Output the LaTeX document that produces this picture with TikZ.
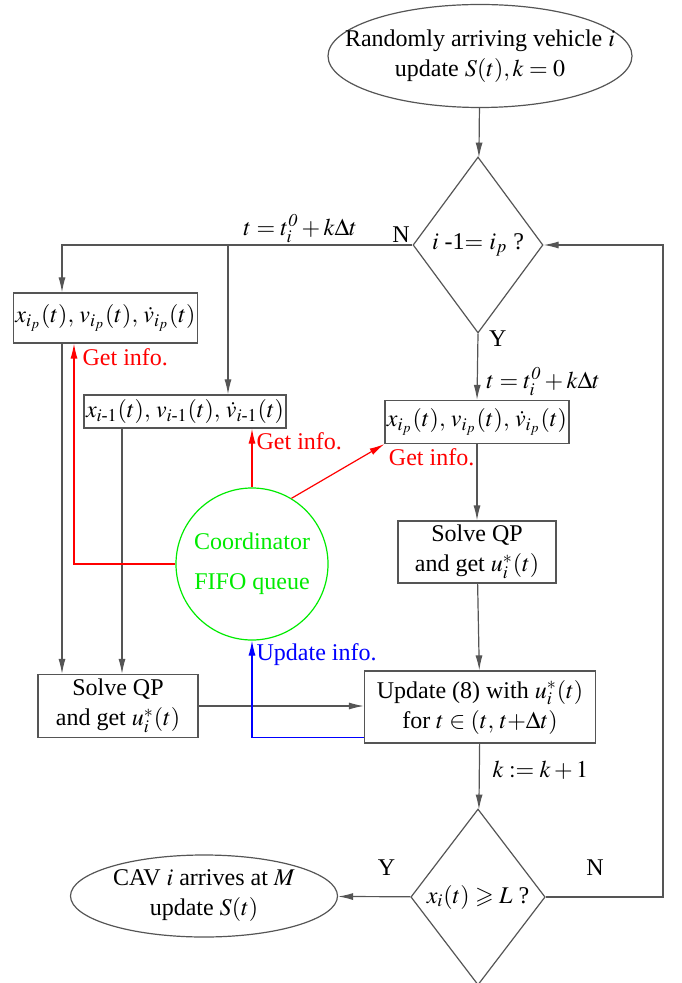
\documentclass[tikz,border=0pt]{standalone}
\usepackage{amsmath,amssymb}
\usepackage{mathptmx}
\usepackage{fontspec}
\setmainfont{Liberation Serif}
\usepackage{tikz}
\usetikzlibrary{positioning, arrows.meta, calc, shapes.geometric}
\definecolor{linegray}{RGB}{85,85,85}
\definecolor{infored}{RGB}{255,0,0}
\definecolor{infoblue}{RGB}{0,0,255}
\definecolor{coordgreen}{RGB}{0,235,0}
\tikzset{
  process/.style={
    rectangle, draw=linegray, line width=0.6pt, align=center,
    inner sep=2pt
  },
  decision/.style={
    diamond, draw=linegray, line width=0.6pt, inner sep=1pt,
    minimum width=65pt, minimum height=88pt
  },
  terminal/.style={
    ellipse, draw=linegray, line width=0.6pt, align=center, inner sep=0pt
  },
  coordinator/.style={
    circle, draw=coordgreen, line width=0.6pt, text=coordgreen,
    align=center, inner sep=0pt, minimum size=76pt
  },
  flow/.style={draw=linegray, line width=0.6pt, -{Latex[length=7.5pt,width=3.5pt]}},
  info red/.style={draw=infored, line width=0.6pt, -{Latex[length=7.5pt,width=3.5pt]}},
  info blue/.style={draw=infoblue, line width=0.6pt, -{Latex[length=7.5pt,width=3.5pt]}},
  info label/.style={inner sep=2pt},
}

\begin{document}
\begin{tikzpicture}[x=0.5pt, y=-0.5pt, font=\fontsize{12}{15}\selectfont]
  \useasboundingbox (0,0) rectangle (681,983);

  % main column
  \node[terminal, inner xsep=-14pt, inner ysep=3pt, minimum width=152pt, minimum height=51.5pt]
    (start) at (480,56) {Randomly arriving vehicle $i$\\update $S(t), k=0$};
  \node[decision] (check) at (478,245) {$i$ -1$=$ $i_p$ ?};
  \node[process, inner sep=1pt, minimum width=85.5pt, minimum height=21.5pt] (ownP) at (477,422)
    {$x_{i_p}(t),\,v_{i_p}(t),\,\dot{v}_{i_p}(t)$};
  \node[process, minimum width=79pt, minimum height=31pt] (solveR) at (477,552)
    {Solve QP\\and get $u_i^{*}(t)$};
  \node[process, minimum width=115.5pt, minimum height=36pt] (update) at (480,707)
    {Update (8) with $u_i^{*}(t)$\\for $t \in (t,\, t{+}\Delta t)$};
  \node[decision] (arrive) at (478,897) {$x_i(t)\geqslant L$ ?};
  \node[terminal, minimum width=133.5pt, minimum height=41pt] (finish) at (204,896)
    {CAV $i$ arrives at $M$\\update $S(t)$};

  % predecessor side
  \node[process, inner sep=1pt, minimum width=87.5pt, minimum height=25pt] (predP) at (105.5,318)
    {$x_{i_p}(t),\,v_{i_p}(t),\,\dot{v}_{i_p}(t)$};
  \node[process, inner sep=1pt, minimum width=92pt, minimum height=16.5pt] (predF) at (185,411.5)
    {$x_{i\text{-}1}(t),\,v_{i\text{-}1}(t),\,\dot{v}_{i\text{-}1}(t)$};
  \node[process, minimum width=80pt, minimum height=31.5pt] (solveL) at (118,706)
    {Solve QP\\and get $u_i^{*}(t)$};
  \node[coordinator] (coord) at (252,564) {Coordinator\\[5pt]FIFO queue};

  \coordinate (corner) at (62,245);
  \coordinate (split) at (228,245);
  \coordinate (dropF) at (122,0);
  \coordinate (redP) at (74,0);
  \coordinate (loop) at (663,897);

  % flow
  \draw[flow] (start) -- (check);
  \draw[flow] (check.south) -- node[pos=0.08, right=2pt]{Y}
    node[pos=0.72, right=1pt]{$t=t_i^{\mathit{0}}+k\Delta t$} (ownP.north);
  \draw[flow] (check.west) -- node[pos=0, above left, inner sep=1pt]{N}
    node[pos=0.32, above, inner sep=1pt]{$t=t_i^{\mathit{0}}+k\Delta t$} (corner)
    -- (corner |- predP.north);
  \draw[flow] (split) -- (split |- predF.north);
  \draw[flow] (predP.south -| corner) -- (corner |- solveL.north);
  \draw[flow] (dropF |- predF.south) -- (dropF |- solveL.north);
  \draw[flow] (ownP) -- (solveR);
  \draw[flow] (solveR) -- (update);
  \draw[flow] (solveL.east) -- (solveL.east -| update.west);
  \draw[flow] (update) -- node[pos=0.4, right=3pt]{$k:=k+1$} (arrive);
  \draw[flow] (arrive) -- node[pos=0.33, above=7pt]{Y} (finish);
  \draw[flow] (arrive.east) -- node[pos=0.42, above=7pt]{N} (loop)
    -- (loop |- check.east) -- (check.east);

  % coordinator info
  \draw[info red] (coord.west) -| node[pos=0.97, right=2pt, info label, text=infored]{Get info.}
    (redP |- predP.south);
  \draw[info red] (coord.north) -- node[pos=0.79, right, info label, text=infored]{Get info.}
    (coord.north |- predF.south);
  \draw[info red] (coord.59) -- node[at end, below right, info label, text=infored]{Get info.}
    (ownP.south west);
  \draw[info blue] ([yshift=3pt]update.south west) -| node[pos=0.93, right, info label, text=infoblue]{Update info.}
    (coord.south);
\end{tikzpicture}
\end{document}
